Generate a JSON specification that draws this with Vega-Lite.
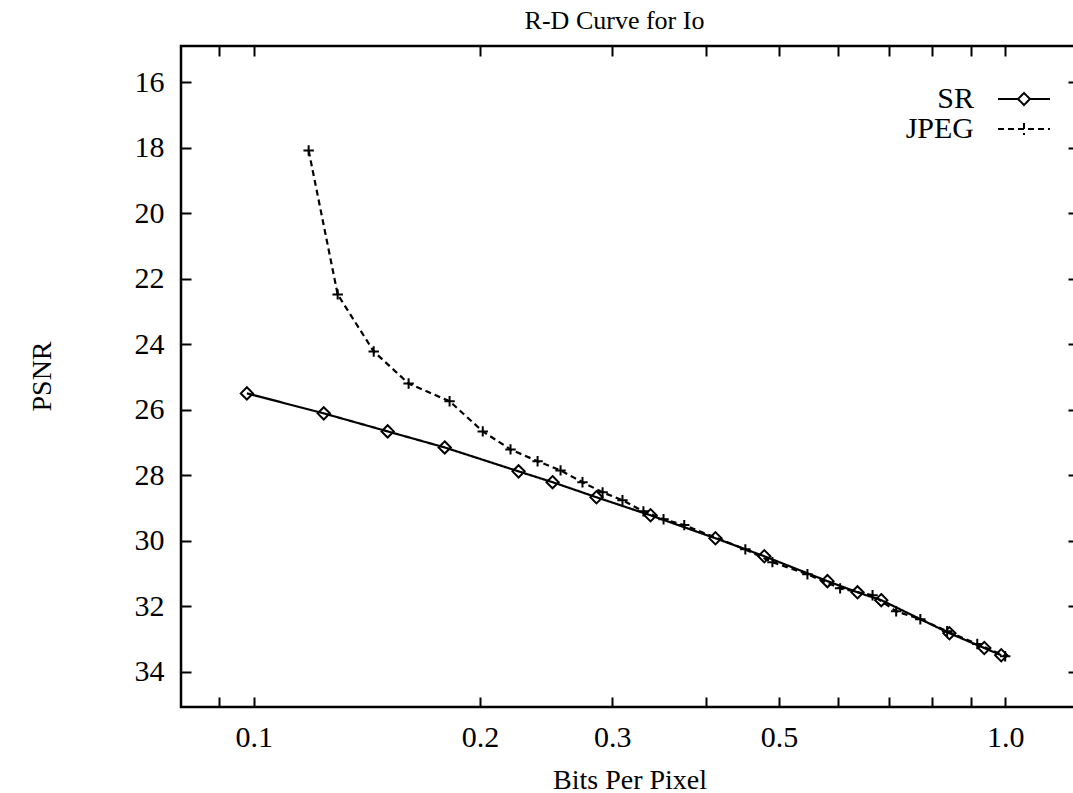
{
  "$schema": "https://vega.github.io/schema/vega-lite/v6.json",
  "width": 897,
  "height": 661,
  "autosize": "none",
  "padding": {"left": 181, "top": 46, "right": 0, "bottom": 86},
  "background": "white",
  "title": {"text": "R-D Curve for Io", "font": "Liberation Serif", "fontSize": 26, "fontWeight": "normal", "color": "black", "baseline": "alphabetic", "frame": "group", "anchor": "middle", "offset": -10, "dx": -15},
  "config": {
    "view": {"stroke": "black", "strokeWidth": 2.5},
    "axis": {"grid": false, "domain": false, "tickColor": "black", "tickWidth": 2, "tickSize": -10, "labelColor": "black", "labelFont": "Liberation Serif", "labelFontSize": 30, "titleFont": "Liberation Serif", "titleFontWeight": "normal", "titleColor": "black", "titleFontSize": 28, "labelOverlap": false, "labelBound": false, "labelFlush": false},
    "legend": {"orient": "none", "legendX": 828, "legendY": 38, "title": null,
      "labelFont": "Liberation Serif", "labelFontSize": 30, "labelColor": "black", "labelAlign": "right", "labelOffset": -65,
      "symbolSize": 676, "symbolStrokeWidth": 2, "symbolStrokeColor": "black", "symbolFillColor": "transparent", "symbolOpacity": 1, "rowPadding": 0}
  },
  "data": {"values": [
    {"series": "SR", "bpp": 0.0979, "psnr": 25.50},
    {"series": "SR", "bpp": 0.1239, "psnr": 26.11},
    {"series": "SR", "bpp": 0.1507, "psnr": 26.66},
    {"series": "SR", "bpp": 0.1795, "psnr": 27.15},
    {"series": "SR", "bpp": 0.2251, "psnr": 27.88},
    {"series": "SR", "bpp": 0.2498, "psnr": 28.21},
    {"series": "SR", "bpp": 0.2858, "psnr": 28.67},
    {"series": "SR", "bpp": 0.3373, "psnr": 29.22},
    {"series": "SR", "bpp": 0.4115, "psnr": 29.92},
    {"series": "SR", "bpp": 0.478, "psnr": 30.47},
    {"series": "SR", "bpp": 0.580, "psnr": 31.23},
    {"series": "SR", "bpp": 0.636, "psnr": 31.57},
    {"series": "SR", "bpp": 0.684, "psnr": 31.81},
    {"series": "SR", "bpp": 0.843, "psnr": 32.82},
    {"series": "SR", "bpp": 0.938, "psnr": 33.27},
    {"series": "SR", "bpp": 0.988, "psnr": 33.49},
    {"series": "JPEG", "bpp": 0.1183, "psnr": 18.09},
    {"series": "JPEG", "bpp": 0.1293, "psnr": 22.48},
    {"series": "JPEG", "bpp": 0.1444, "psnr": 24.22},
    {"series": "JPEG", "bpp": 0.1607, "psnr": 25.20},
    {"series": "JPEG", "bpp": 0.1822, "psnr": 25.74},
    {"series": "JPEG", "bpp": 0.2017, "psnr": 26.66},
    {"series": "JPEG", "bpp": 0.2196, "psnr": 27.21},
    {"series": "JPEG", "bpp": 0.2386, "psnr": 27.57},
    {"series": "JPEG", "bpp": 0.256, "psnr": 27.85},
    {"series": "JPEG", "bpp": 0.2738, "psnr": 28.21},
    {"series": "JPEG", "bpp": 0.2912, "psnr": 28.52},
    {"series": "JPEG", "bpp": 0.3095, "psnr": 28.76},
    {"series": "JPEG", "bpp": 0.330, "psnr": 29.10},
    {"series": "JPEG", "bpp": 0.351, "psnr": 29.34},
    {"series": "JPEG", "bpp": 0.374, "psnr": 29.52},
    {"series": "JPEG", "bpp": 0.451, "psnr": 30.26},
    {"series": "JPEG", "bpp": 0.490, "psnr": 30.65},
    {"series": "JPEG", "bpp": 0.5455, "psnr": 31.02},
    {"series": "JPEG", "bpp": 0.603, "psnr": 31.45},
    {"series": "JPEG", "bpp": 0.666, "psnr": 31.66},
    {"series": "JPEG", "bpp": 0.716, "psnr": 32.15},
    {"series": "JPEG", "bpp": 0.771, "psnr": 32.39},
    {"series": "JPEG", "bpp": 0.837, "psnr": 32.76},
    {"series": "JPEG", "bpp": 0.918, "psnr": 33.15},
    {"series": "JPEG", "bpp": 1.0, "psnr": 33.52}
  ]},
  "resolve": {"axis": {"x": "independent", "y": "independent"}},
  "layer": [
    {
      "mark": {"type": "line", "color": "black", "strokeWidth": 2.2},
      "encoding": {
        "x": {"field": "bpp", "type": "quantitative",
          "scale": {"type": "log", "domain": [0.08, 1.25], "nice": false},
          "axis": {"orient": "bottom", "values": [0.09, 0.1, 0.2, 0.3, 0.4, 0.5, 0.6, 0.7, 0.8, 0.9, 1.0],
            "labelExpr": "datum.value == 0.1 ? '0.1' : datum.value == 0.2 ? '0.2' : datum.value == 0.3 ? '0.3' : datum.value == 0.5 ? '0.5' : datum.value == 1 ? '1.0' : ''",
            "labelPadding": 25, "title": "Bits Per Pixel", "titleY": 81, "titleBaseline": "alphabetic"}},
        "y": {"field": "psnr", "type": "quantitative",
          "scale": {"domain": [14.9, 35.07], "reverse": true, "nice": false, "zero": false},
          "axis": {"orient": "left", "values": [16, 18, 20, 22, 24, 26, 28, 30, 32, 34], "labelPadding": 27,
            "title": "PSNR", "titleX": -139, "titleY": 330, "titleAngle": -90, "titleAlign": "center", "titleBaseline": "middle"}},
        "strokeDash": {"field": "series", "type": "nominal",
          "scale": {"domain": ["SR", "JPEG"], "range": [[1, 0], [6, 4]]}}
      }
    },
    {
      "transform": [{"filter": "datum.series == 'SR'"}],
      "mark": {"type": "point", "filled": false, "stroke": "black", "strokeWidth": 2, "size": 150, "opacity": 1, "shape": "M0,-1L1,0L0,1L-1,0Z"},
      "encoding": {
        "x": {"field": "bpp", "type": "quantitative",
          "scale": {"type": "log", "domain": [0.08, 1.25], "nice": false},
          "axis": {"orient": "top", "values": [0.09, 0.1, 0.2, 0.3, 0.4, 0.5, 0.6, 0.7, 0.8, 0.9, 1.0], "labels": false, "title": null}},
        "y": {"field": "psnr", "type": "quantitative",
          "scale": {"domain": [14.9, 35.07], "reverse": true, "nice": false, "zero": false},
          "axis": {"orient": "right", "values": [16, 18, 20, 22, 24, 26, 28, 30, 32, 34], "labels": false, "title": null}}
      }
    },
    {
      "transform": [{"filter": "datum.series == 'JPEG'"}],
      "mark": {"type": "point", "filled": false, "stroke": "black", "strokeWidth": 2, "size": 150, "opacity": 1, "shape": "M-0.85,0H0.85M0,-0.85V0.85"},
      "encoding": {
        "x": {"field": "bpp", "type": "quantitative", "axis": null},
        "y": {"field": "psnr", "type": "quantitative", "axis": null}
      }
    },
    {
      "mark": {"type": "point", "filled": false, "stroke": "black", "strokeWidth": 2, "opacity": 0},
      "encoding": {
        "x": {"field": "bpp", "type": "quantitative", "axis": null},
        "y": {"field": "psnr", "type": "quantitative", "axis": null},
        "shape": {"field": "series", "type": "nominal",
          "scale": {"domain": ["SR", "JPEG"], "range": ["M-2,0H-0.46M0.46,0H2M0,-0.46L0.46,0L0,0.46L-0.46,0Z", "M-2,0H2M0,-0.46V0.46"]}}
      }
    }
  ]
}
